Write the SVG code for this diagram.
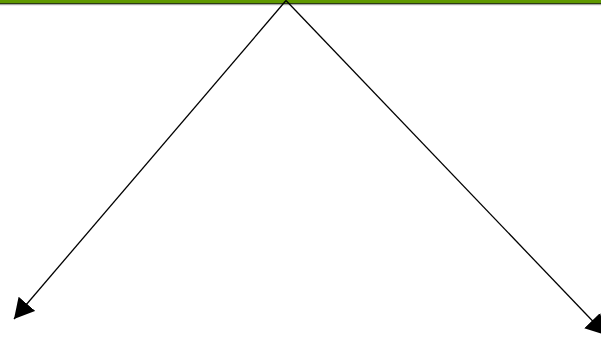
<svg xmlns="http://www.w3.org/2000/svg" width="601" height="338" viewBox="0 0 601 338">
  <style>
    .conn { stroke: #000; stroke-width: 1.3; fill: none; }
  </style>
  <defs>
    <marker id="arrow" markerUnits="userSpaceOnUse" markerWidth="24" markerHeight="24" refX="20" refY="11" orient="auto">
      <path d="M0,0 L20,11 L0,22 Z" fill="#000"/>
    </marker>
  </defs>
  <rect width="601" height="338" fill="#fff"/>
  <g id="top-bar">
    <rect x="0" y="0" width="601" height="3.2" fill="#5f9900"/>
    <line x1="0" y1="3.6" x2="601" y2="3.6" stroke="#1a2a00" stroke-width="1"/>
    <line x1="0" y1="4.7" x2="601" y2="4.7" stroke="#999" stroke-width="1"/>
  </g>
  <g id="connectors">
    <line class="conn" x1="286" y1="0.5" x2="14" y2="319" marker-end="url(#arrow)"/>
    <line class="conn" x1="286" y1="0.5" x2="606" y2="335" marker-end="url(#arrow)"/>
  </g>
</svg>
